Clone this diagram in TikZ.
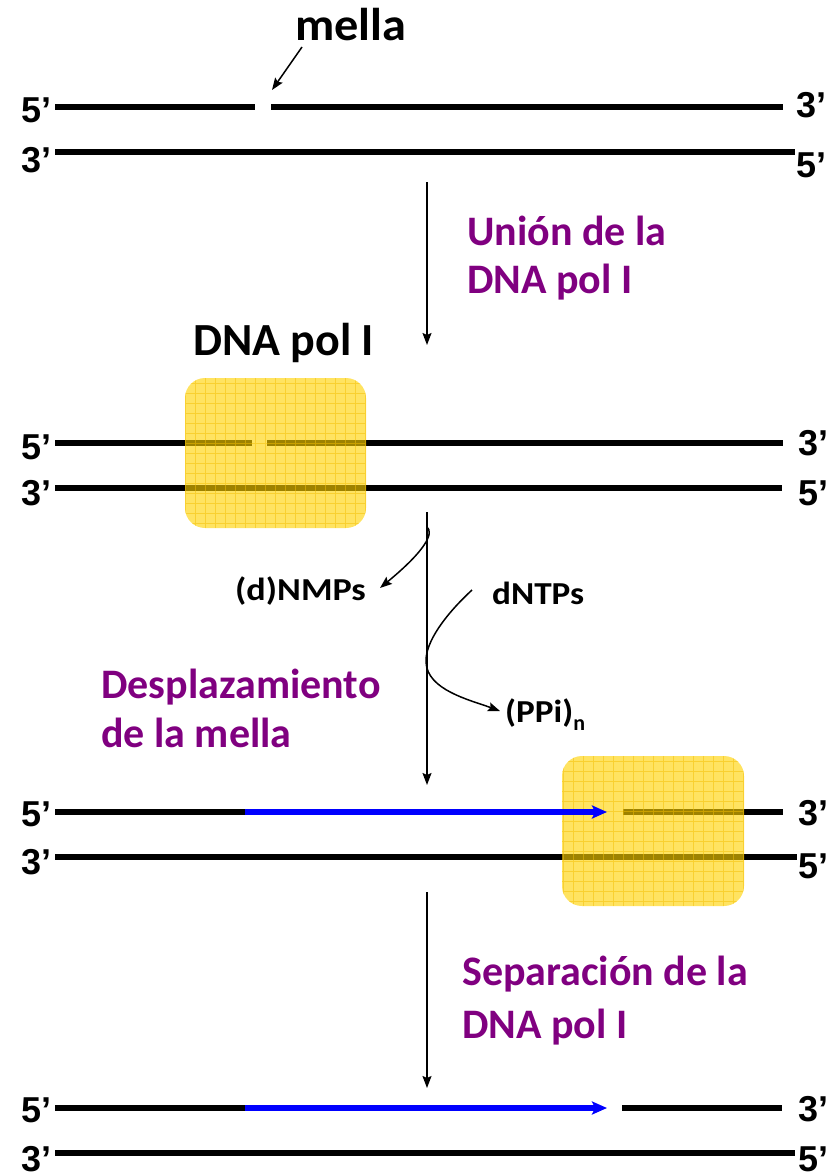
\documentclass[tikz,border=0pt]{standalone}
\usepackage{fontspec}
\usetikzlibrary{arrows.meta}
\newfontfamily\capfont{Carlito}
\newfontfamily\endfont{Liberation Sans}
\definecolor{stepviolet}{RGB}{128,0,128}
\definecolor{polfill}{RGB}{255,210,0}
\definecolor{polgrid}{RGB}{245,190,0}
\definecolor{newblue}{RGB}{0,0,255}
\newcommand\fsz[1]{\fontsize{#1}{#1}\selectfont}

\begin{document}
\begin{tikzpicture}[x=1pt,y=-1pt,
  strand/.style={line width=5.5pt},
  newdna/.style={line width=5.5pt, draw=newblue, -{Stealth[length=15pt,width=13pt,inset=3pt]}},
  flow/.style={line width=1.5pt, -{Stealth[length=12pt,width=9pt,inset=2pt]}},
  endlbl/.style={font=\endfont\bfseries\fsz{36}, inner sep=0pt, anchor=base west},
  steplbl/.style={text=stepviolet, font=\capfont\bfseries\fsz{42}, inner sep=0pt, anchor=base west},
  namelbl/.style={font=\capfont\bfseries\fsz{46}, inner sep=0pt, anchor=base west},
  smalllbl/.style={font=\capfont\bfseries\fsz{32}, inner sep=0pt, anchor=base west},
  polbox/.style={fill=polfill, fill opacity=0.62, rounded corners=20pt,
    minimum width=#1, minimum height=150pt, inner sep=0pt,
    path picture={\draw[polgrid, line width=0.9pt, opacity=0.5, step=10pt]
      (path picture bounding box.south west) grid (path picture bounding box.north east);}},
]
\useasboundingbox (0,0) rectangle (837,1175);

% ---------- stage 1: nicked duplex ----------
\node[namelbl] (mella) at (295,40) {\scalebox{1.05}[1]{mella}};
\coordinate (nickptr) at (302,47);
\coordinate (nick) at (272,90);
\draw[flow] (nickptr) -- (nick);
\draw[strand] (55,107) -- (255,107);
\draw[strand] (271,107) -- (783,107);
\draw[strand] (55,152) -- (795,152);
\node[endlbl] (s1l5) at (21,122) {5’};
\node[endlbl] (s1l3) at (21,172) {3’};
\node[endlbl] (s1r3) at (796,117) {3’};
\node[endlbl] (s1r5) at (796,177) {5’};

\coordinate (a1s) at (427,182);
\coordinate (a1e) at (427,345);
\draw[flow] (a1s) -- (a1e);
\node[steplbl] (union1) at (467,245) {Unión de la};
\node[steplbl] (union2) at (467,293) {DNA pol I};

% ---------- stage 2: polymerase bound at the nick ----------
\node[namelbl] (polname) at (193,355) {DNA pol I};
\draw[strand] (55,443) -- (252,443);
\draw[strand] (267,443) -- (783,443);
\draw[strand] (55,488) -- (782,488);
\node[polbox=181pt] (pol1) at (275.5,453) {};
\node[endlbl] (s2l5) at (21,459) {5’};
\node[endlbl] (s2l3) at (21,505) {3’};
\node[endlbl] (s2r3) at (798,455) {3’};
\node[endlbl] (s2r5) at (798,505) {5’};

\coordinate (a2s) at (427,512);
\coordinate (a2e) at (427,785);
\draw[flow] (a2s) -- (a2e);
\node[smalllbl] (nmps) at (235,600) {\scalebox{1.13}[1]{(d)NMPs}};
\node[smalllbl] (dntps) at (492,604) {\scalebox{1.1}[1]{dNTPs}};
\node[smalllbl] (ppi) at (505,722) {\scalebox{1.1}[1]{(PPi)}\raisebox{-8pt}{\fsz{22}n}};
\coordinate (nmpsout) at (427,527);
\coordinate (nmpstip) at (380,588);
\draw[flow] (nmpsout) .. controls (434,533) and (426,550) .. (nmpstip);
\coordinate (dntpsin) at (472,590);
\coordinate (turn) at (426,662);
\coordinate (ppitip) at (500,711);
\draw[flow] (dntpsin) .. controls (446,614) and (425,642) .. (turn)
  .. controls (427,690) and (470,700) .. (ppitip);
\node[steplbl] (despl1) at (101,698) {Desplazamiento};
\node[steplbl] (despl2) at (101,747) {de la mella};

% ---------- stage 3: nick translated ----------
\draw[strand] (55,812) -- (247,812);
\draw[strand] (623,812) -- (783,812);
\draw[strand] (55,857) -- (797,857);
\node[polbox=182pt] (pol2) at (653,831) {};
\draw[newdna] (245,812) -- (607,812);
\node[endlbl] (s3l5) at (21,826) {5’};
\node[endlbl] (s3l3) at (21,874) {3’};
\node[endlbl] (s3r3) at (798,825) {3’};
\node[endlbl] (s3r5) at (798,878) {5’};

\coordinate (a3s) at (427,892);
\coordinate (a3e) at (427,1088);
\draw[flow] (a3s) -- (a3e);
\node[steplbl] (sep1) at (462,985) {Separación de la};
\node[steplbl] (sep2) at (462,1038) {DNA pol I};

% ---------- stage 4: polymerase released ----------
\draw[strand] (55,1108) -- (247,1108);
\draw[newdna] (245,1108) -- (607,1108);
\draw[strand] (622,1108) -- (782,1108);
\draw[strand] (55,1153) -- (795,1153);
\node[endlbl] (s4l5) at (21,1122) {5’};
\node[endlbl] (s4l3) at (21,1171) {3’};
\node[endlbl] (s4r3) at (798,1121) {3’};
\node[endlbl] (s4r5) at (798,1171) {5’};
\end{tikzpicture}
\end{document}
